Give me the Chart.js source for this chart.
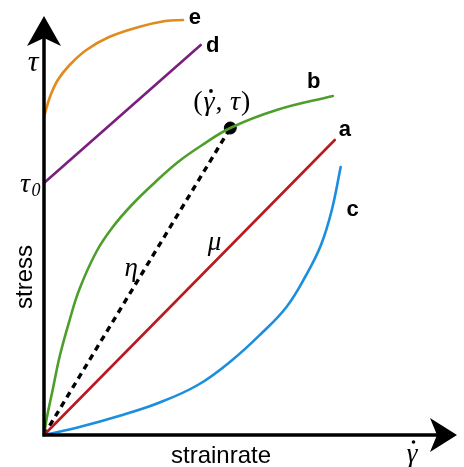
<!DOCTYPE html>
<html>
<head>
<meta charset="utf-8">
<script src="https://cdn.jsdelivr.net/npm/chart.js@4/dist/chart.umd.min.js"></script>
<style>
html,body{margin:0;padding:0;background:#fff;}
#wrap{width:464px;height:467px;position:relative;}
</style>
</head>
<body>
<div id="wrap"><canvas id="c"></canvas></div>
<script>
// Schematic values (arbitrary units: strain rate on x, stress on y)
const seriesA_x = [0, 29.5];
const seriesA_y = [0, 29.5];
const seriesB_x = [0, 0.3, 0.9, 1.6, 2.6, 3.6, 5.3, 6.9, 8.9, 11.3, 13.6, 15.9, 18.9, 23.6, 29.3];
const seriesB_y = [0, 1.8, 4.6, 7.9, 11.5, 14.6, 18.3, 20.7, 23.0, 25.3, 27.3, 28.9, 30.7, 32.5, 33.9];
const seriesC_x = [0, 3.6, 7.6, 11.6, 15.6, 19.1, 22.1, 24.6, 26.6, 28.1, 29.2, 30.1];
const seriesC_y = [0, 0.8, 1.9, 3.2, 5.0, 7.5, 10.2, 12.8, 16.0, 19.0, 22.5, 26.8];
const seriesD_x = [0, 15.9];
const seriesD_y = [25.2, 39.0];
const seriesE_x = [0, 0.6, 1.4, 2.6, 4.3, 6.6, 9.6, 12.3, 14.1];
const seriesE_y = [31.8, 33.8, 35.5, 37.0, 38.5, 39.8, 40.8, 41.4, 41.5];
const stateX = [18.9];          // (gamma-dot, tau) point on curve b
const stateY = [30.7];
const curveLabels = ['a', 'b', 'c', 'd', 'e'];
const axisMax = { x: 41.9, y: 42 };

const zip = (xs, ys) => xs.map((x, i) => ({ x: x, y: ys[i] }));

const SANS = '"Liberation Sans", Arial, sans-serif';
const SERIF = '"Liberation Serif", "DejaVu Serif", serif';

const colors = { a: '#BA1A1F', b: '#4E9E2C', c: '#1B8EDF', d: '#7A1F7D', e: '#E08B1D' };

function lineDs(name, xs, ys) {
  return {
    label: name, data: zip(xs, ys), borderColor: colors[name], borderWidth: 2.6,
    pointRadius: 0, fill: false, tension: 0.4, clip: false,
    borderCapStyle: 'round', borderJoinStyle: 'round'
  };
}

const datasets = [
  lineDs('e', seriesE_x, seriesE_y),
  lineDs('d', seriesD_x, seriesD_y),
  lineDs('b', seriesB_x, seriesB_y),
  lineDs('a', seriesA_x, seriesA_y),
  lineDs('c', seriesC_x, seriesC_y),
  { label: 'eta', data: [{ x: 0, y: 0 }, { x: stateX[0], y: stateY[0] }], borderColor: '#000',
    borderWidth: 3.4, borderDash: [6, 5], pointRadius: 0, fill: false, clip: false },
  { label: 'state', type: 'scatter', data: zip(stateX, stateY), backgroundColor: '#000',
    borderColor: '#000', pointRadius: 6, clip: false }
];

const overlay = {
  id: 'overlay',
  afterDatasetsDraw(chart) {
    const ctx = chart.ctx;
    const xs = chart.scales.x, ys = chart.scales.y;
    const x0 = xs.getPixelForValue(0), y0 = ys.getPixelForValue(0);
    const xEnd = xs.getPixelForValue(axisMax.x), yEnd = ys.getPixelForValue(axisMax.y);
    ctx.save();
    ctx.strokeStyle = '#000'; ctx.fillStyle = '#000';
    // axes
    ctx.lineWidth = 3.5;
    ctx.beginPath();
    ctx.moveTo(x0, y0 + 1.7); ctx.lineTo(x0, yEnd + 20);
    ctx.moveTo(x0 - 1.7, y0); ctx.lineTo(xEnd - 18, y0);
    ctx.stroke();
    // y arrow head
    ctx.beginPath();
    ctx.moveTo(x0, yEnd + 1);
    ctx.lineTo(x0 + 17, yEnd + 31);
    ctx.lineTo(x0, yEnd + 23);
    ctx.lineTo(x0 - 17, yEnd + 31);
    ctx.closePath(); ctx.fill();
    // x arrow head
    ctx.beginPath();
    ctx.moveTo(xEnd, y0);
    ctx.lineTo(xEnd - 27, y0 - 17);
    ctx.lineTo(xEnd - 20, y0);
    ctx.lineTo(xEnd - 27, y0 + 17);
    ctx.closePath(); ctx.fill();

    ctx.textAlign = 'center'; ctx.textBaseline = 'middle';
    const px = (x, y) => [xs.getPixelForValue(x), ys.getPixelForValue(y)];
    // curve labels at curve ends
    ctx.font = 'bold 22px ' + SANS;
    const offs = { a: [10, -10], b: [-19, -14], c: [12, 43], d: [12, 1], e: [12, -2] };
    const sets = { a: [seriesA_x, seriesA_y], b: [seriesB_x, seriesB_y], c: [seriesC_x, seriesC_y], d: [seriesD_x, seriesD_y], e: [seriesE_x, seriesE_y] };
    curveLabels.forEach(n => {
      const s = sets[n];
      const [lx, ly] = px(s[0][s[0].length - 1], s[1][s[1].length - 1]);
      ctx.fillText(n, lx + offs[n][0], ly + offs[n][1]);
    });
    // axis titles
    ctx.font = '24px ' + SANS;
    ctx.fillText('strainrate', x0 + 177, y0 + 21);
    ctx.save();
    ctx.translate(x0 - 19, ys.getPixelForValue(15.8));
    ctx.rotate(-Math.PI / 2);
    ctx.fillText('stress', 0, 0);
    ctx.restore();
    // symbols
    ctx.font = 'italic 30px ' + SERIF;
    ctx.fillText('τ', x0 - 11, ys.getPixelForValue(37.2));
    const [dx, dy] = px(seriesD_x[0], seriesD_y[0]);
    ctx.font = 'italic 28px ' + SERIF;
    ctx.fillText('τ', dx - 19, dy + 2);
    ctx.font = 'italic 18px ' + SERIF;
    ctx.fillText('0', dx - 8, dy + 8);
    // state label "(γ̇, τ)"
    const [sx, sy] = px(stateX[0], stateY[0]);
    const parts = [['(', ''], ['γ', 'italic '], [',', ''], ['\u2009', ''], ['τ', 'italic '], [')', '']];
    const FS = '28px ';
    let total = 0;
    parts.forEach(p => { ctx.font = p[1] + FS + SERIF; total += ctx.measureText(p[0]).width + 1; });
    ctx.textAlign = 'left';
    let tx = sx - 8 - total / 2;
    const ty = sy - 25;
    parts.forEach(p => {
      ctx.font = p[1] + FS + SERIF;
      ctx.fillText(p[0], tx, ty);
      const w = ctx.measureText(p[0]).width;
      if (p[0] === 'γ') {
        ctx.beginPath(); ctx.arc(tx + w / 2 + 2, ty - 12, 1.9, 0, Math.PI * 2); ctx.fill();
      }
      tx += w + 1;
    });
    ctx.textAlign = 'center';
    // eta and mu
    const [ex, ey] = px(stateX[0] * 0.5, stateY[0] * 0.5);
    ctx.font = 'italic 27px ' + SERIF;
    ctx.fillText('η', ex - 6, ey - 13);
    const [mx, my] = px(17.2, 17.2);
    ctx.fillText('μ', mx + 1, my - 20);
    // gamma-dot on x axis
    ctx.font = 'italic 27px ' + SERIF;
    const gx = xEnd - 45, gy = y0 + 20;
    ctx.fillText('γ', gx, gy);
    ctx.beginPath(); ctx.arc(gx + 1.5, gy - 13, 1.8, 0, Math.PI * 2); ctx.fill();
    ctx.restore();
  }
};

new Chart(document.getElementById('c'), {
  type: 'line',
  data: { datasets: datasets },
  options: {
    responsive: true, maintainAspectRatio: false, animation: false,
    layout: { padding: { left: 44, right: 1, top: 15, bottom: 32 } },
    plugins: { legend: { display: false }, tooltip: { enabled: false } },
    scales: {
      x: { type: 'linear', min: 0, max: axisMax.x, display: false },
      y: { type: 'linear', min: 0, max: axisMax.y, display: false }
    }
  },
  plugins: [overlay]
});
</script>
</body>
</html>
